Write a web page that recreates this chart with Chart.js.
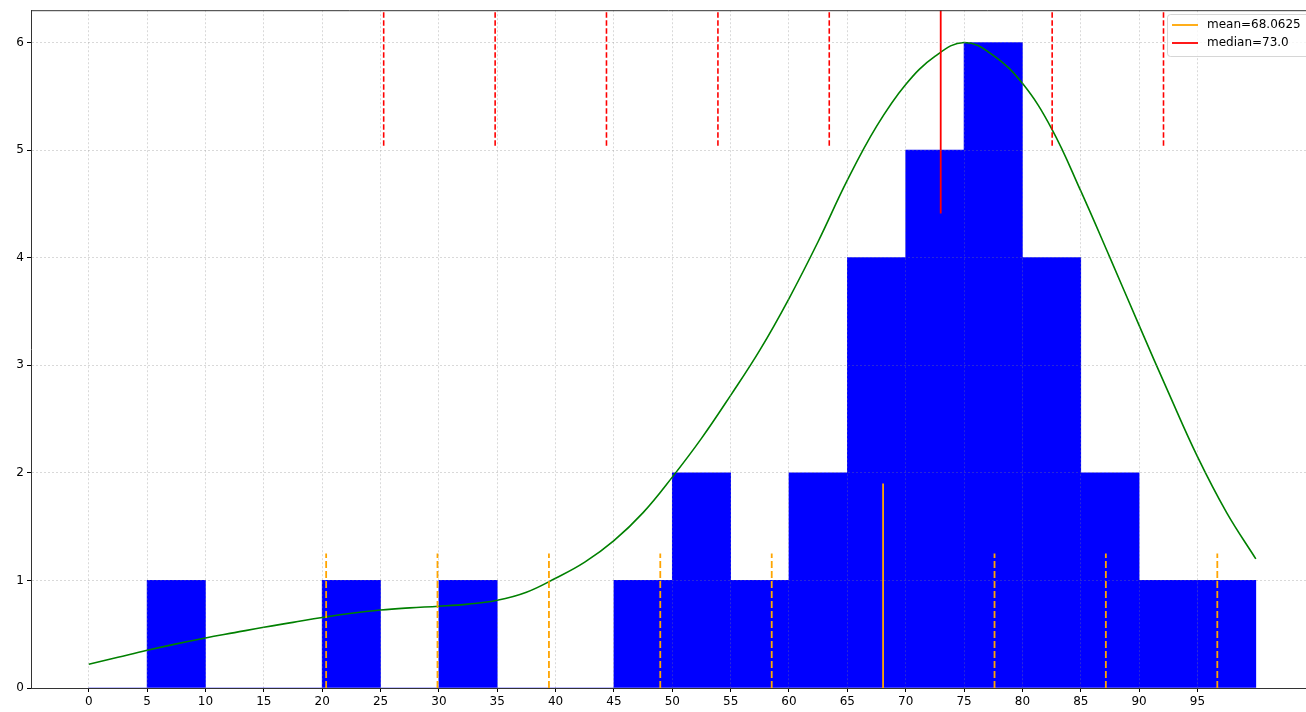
<!DOCTYPE html>
<html>
<head>
<meta charset="utf-8">
<script src="https://cdn.jsdelivr.net/npm/chart.js@4.4.1/dist/chart.umd.min.js"></script>
<style>
  html, body { margin: 0; padding: 0; background: #fff; }
  canvas { display: block; }
</style>
</head>
<body>
<canvas id="myChart" width="1306" height="712"></canvas>
<script>
const ctx = document.getElementById('myChart');

// histogram bins (centres) and counts
const binCenters = [2.5, 7.5, 12.5, 17.5, 22.5, 27.5, 32.5, 37.5, 42.5, 47.5,
                    52.5, 57.5, 62.5, 67.5, 72.5, 77.5, 82.5, 87.5, 92.5, 97.5];
const counts = [0, 1, 0, 0, 1, 0, 1, 0, 0, 1, 2, 1, 2, 4, 5, 6, 4, 2, 1, 1];

// smooth (green) curve
const curveX = [0, 2.5, 5, 7.5, 10, 12.5, 15, 17.5, 20, 22.5, 25, 27.5, 30, 32.5, 35, 37.5, 40,
                42.5, 45, 47.5, 50, 52.5, 55, 57.5, 60, 62.5, 65, 67.5, 70, 72.5, 75, 77.5, 80,
                82.5, 85, 87.5, 90, 92.5, 95, 97.5, 100];
const curveY = [0.22, 0.285, 0.35, 0.41, 0.465, 0.515, 0.565, 0.61, 0.655, 0.695, 0.725, 0.745, 0.76,
                0.78, 0.815, 0.89, 1.02, 1.17, 1.37, 1.63, 1.96, 2.32, 2.72, 3.14, 3.62, 4.15, 4.72,
                5.22, 5.61, 5.87, 6.0, 5.88, 5.62, 5.2, 4.62, 4.0, 3.37, 2.75, 2.15, 1.63, 1.2];

// mean / median and their spaced marker lines
const meanValue = 68.0625;
const medianValue = 73.0;
const meanMarks = [20.34, 29.88, 39.43, 48.97, 58.52, 77.61, 87.15, 96.70];
const medianMarks = [25.27, 34.82, 44.36, 53.91, 63.45, 82.55, 92.09];
const meanLineTop = 1.9;
const meanMarkTop = 1.25;
const medianLineBottom = 4.41;
const medianMarkBottom = 5.04;
const yTop = 6.3;

// tick labels
const xTicks = [0, 5, 10, 15, 20, 25, 30, 35, 40, 45, 50, 55, 60, 65, 70, 75, 80, 85, 90, 95];
const yTicks = [0, 1, 2, 3, 4, 5, 6];

function vline(x, y0, y1, color, width, dash) {
  return {
    type: 'line',
    data: [{x: x, y: y0}, {x: x, y: y1}],
    borderColor: color,
    borderWidth: width,
    borderDash: dash,
    pointRadius: 0,
    fill: false,
    order: 1
  };
}

const lines = [];
meanMarks.forEach(v => lines.push(vline(v, 0, meanMarkTop, '#ffa500', 1.8, [7, 3])));
lines.push(vline(meanValue, 0, meanLineTop, '#ffa500', 1.8, []));
medianMarks.forEach(v => lines.push(vline(v, medianMarkBottom, yTop, '#ff0000', 1.6, [5.5, 2.5])));
lines.push(vline(medianValue, medianLineBottom, yTop, '#ff0000', 1.8, []));

// top spine + matplotlib style legend box
const extras = {
  id: 'extras',
  afterDraw(chart) {
    const c = chart.ctx;
    const a = chart.chartArea;
    c.save();
    c.strokeStyle = '#333';
    c.lineWidth = 1;
    c.beginPath();
    c.moveTo(a.left, a.top + 0.5);
    c.lineTo(a.right, a.top + 0.5);
    c.stroke();

    const bx = 1167.5, by = 14.5, bw = 170, bh = 42, r = 3;
    c.beginPath();
    c.moveTo(bx + r, by);
    c.lineTo(bx + bw - r, by);
    c.arcTo(bx + bw, by, bx + bw, by + r, r);
    c.lineTo(bx + bw, by + bh - r);
    c.arcTo(bx + bw, by + bh, bx + bw - r, by + bh, r);
    c.lineTo(bx + r, by + bh);
    c.arcTo(bx, by + bh, bx, by + bh - r, r);
    c.lineTo(bx, by + r);
    c.arcTo(bx, by, bx + r, by, r);
    c.closePath();
    c.fillStyle = 'rgba(255,255,255,0.8)';
    c.fill();
    c.strokeStyle = 'rgba(204,204,204,0.8)';
    c.stroke();

    const items = [
      {label: 'mean=' + meanValue, color: '#ffa500', y: 25},
      {label: 'median=' + medianValue.toFixed(1), color: '#ff0000', y: 43}
    ];
    c.font = '12px "DejaVu Sans"';
    c.textBaseline = 'middle';
    items.forEach(it => {
      c.strokeStyle = it.color;
      c.lineWidth = 1.8;
      c.beginPath();
      c.moveTo(1172, it.y);
      c.lineTo(1198, it.y);
      c.stroke();
      c.fillStyle = '#000';
      c.fillText(it.label, 1207, it.y);
    });
    c.restore();
  }
};

const tickFont = {family: 'DejaVu Sans', size: 12};

new Chart(ctx, {
  type: 'bar',
  data: {
    datasets: [{
      type: 'bar',
      data: binCenters.map((x, i) => ({x: x, y: counts[i]})),
      backgroundColor: '#0000ff',
      borderWidth: 0,
      barPercentage: 1,
      categoryPercentage: 1,
      order: 4
    }, {
      type: 'line',
      data: curveX.map((x, i) => ({x: x, y: curveY[i]})),
      borderColor: '#008000',
      borderWidth: 1.6,
      pointRadius: 0,
      tension: 0.4,
      fill: false,
      order: 3
    }, ...lines]
  },
  options: {
    responsive: false,
    animation: false,
    devicePixelRatio: 1,
    layout: {padding: {top: 10, left: 0, right: 0, bottom: 0}},
    plugins: {
      legend: {display: false},
      tooltip: {enabled: false}
    },
    scales: {
      x: {
        type: 'linear',
        min: -4.95,
        max: 104.3,
        offset: false,
        afterBuildTicks: s => { s.ticks = xTicks.map(v => ({value: v})); },
        afterFit: s => { s.height = 24; },
        ticks: {autoSkip: false, maxRotation: 0, color: '#000', font: tickFont, padding: 3},
        grid: {
          z: 1,
          offset: false,
          color: 'rgba(128,128,128,0.3)',
          lineWidth: 1,
          tickLength: 4,
          tickColor: '#000',
          tickBorderDash: []
        },
        border: {display: true, color: '#333', width: 1, dash: [2, 2], z: 2}
      },
      y: {
        type: 'linear',
        min: 0,
        max: yTop,
        afterBuildTicks: s => { s.ticks = yTicks.map(v => ({value: v})); },
        afterFit: s => { s.width = 31; },
        ticks: {color: '#000', font: tickFont, padding: 3},
        grid: {
          z: 1,
          offset: false,
          color: 'rgba(128,128,128,0.3)',
          lineWidth: 1,
          tickLength: 4,
          tickColor: '#000',
          tickBorderDash: []
        },
        border: {display: true, color: '#333', width: 1, dash: [2, 2], z: 2}
      }
    }
  },
  plugins: [extras]
});
</script>
</body>
</html>
